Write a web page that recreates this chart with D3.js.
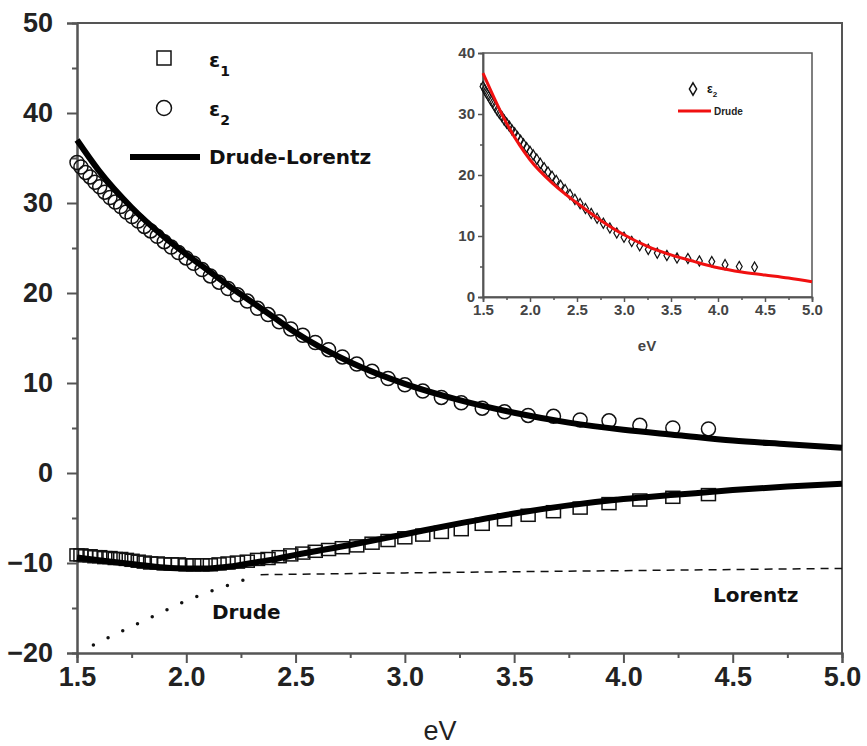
<!DOCTYPE html>
<html>
<head>
<meta charset="utf-8">
<script src="https://cdn.jsdelivr.net/npm/d3@7/dist/d3.min.js"></script>
<style>
  body { margin: 0; background: #fff; }
  text { font-family: "Liberation Sans", Arial, sans-serif; }
  .lbl { font-family: "DejaVu Sans", Verdana, sans-serif; font-weight: bold; }
</style>
</head>
<body>
<script>
var energy = [1.50, 1.518, 1.539, 1.560, 1.582, 1.604, 1.627, 1.651, 1.675, 1.700,
  1.726, 1.752, 1.780, 1.808, 1.837, 1.867, 1.899, 1.931, 1.964, 1.999,
  2.034, 2.072, 2.110, 2.150, 2.191, 2.234, 2.279, 2.326, 2.374, 2.425,
  2.478, 2.533, 2.590, 2.651, 2.714, 2.780, 2.850, 2.923, 3.000, 3.082,
  3.167, 3.258, 3.354, 3.456, 3.564, 3.680, 3.802, 3.934, 4.075, 4.226, 4.389];

var eps1 = [-9.1, -9.1, -9.2, -9.2, -9.3, -9.3, -9.4, -9.4, -9.5, -9.5,
  -9.6, -9.7, -9.8, -9.9, -10.0, -10.0, -10.1, -10.1, -10.1, -10.2,
  -10.2, -10.2, -10.2, -10.1, -10.0, -9.9, -9.8, -9.6, -9.5, -9.3,
  -9.1, -8.9, -8.7, -8.5, -8.3, -8.1, -7.8, -7.5, -7.2, -6.9,
  -6.6, -6.3, -5.7, -5.2, -4.7, -4.3, -3.9, -3.4, -3.0, -2.7, -2.4];

var eps2 = [34.5, 34.0, 33.4, 32.9, 32.3, 31.8, 31.2, 30.6, 30.1, 29.6,
  29.0, 28.5, 28.0, 27.4, 26.9, 26.3, 25.7, 25.1, 24.5, 23.9,
  23.3, 22.6, 21.9, 21.2, 20.5, 19.8, 19.1, 18.3, 17.6, 16.8,
  16.0, 15.3, 14.5, 13.7, 12.9, 12.1, 11.3, 10.5, 9.8, 9.1,
  8.4, 7.8, 7.2, 6.8, 6.4, 6.3, 5.9, 5.8, 5.3, 5.0, 4.9];

var fitE = [1.5, 1.6, 1.75, 1.9, 2.0, 2.1, 2.2, 2.3, 2.4, 2.5, 2.75, 3.0, 3.25, 3.5, 3.75, 4.0, 4.25, 4.5, 4.75, 5.0];
var fitEps1 = [-9.4, -9.7, -10.1, -10.5, -10.6, -10.6, -10.4, -10.0, -9.6, -9.1, -8.0, -6.8, -5.6, -4.5, -3.6, -2.9, -2.4, -1.9, -1.5, -1.2];
var fitEps2 = [37.0, 33.6, 29.5, 26.2, 24.3, 22.5, 20.7, 19.0, 17.3, 15.6, 12.3, 9.9, 8.1, 6.7, 5.6, 4.8, 4.2, 3.6, 3.2, 2.8];

var lorentzE = [2.34, 3.0, 4.0, 5.0];
var lorentzEps1 = [-11.3, -11.1, -10.85, -10.6];

var drudeE = [1.575, 1.72, 1.86, 2.0, 2.14, 2.3];
var drudeEps1 = [-19.1, -17.4, -15.8, -14.2, -12.9, -11.6];

var insetFitE = [1.5, 1.75, 2.0, 2.25, 2.5, 2.75, 3.0, 3.25, 3.5, 3.75, 4.0, 4.25, 4.5, 4.75, 5.0];
var insetFitEps2 = [36.7, 28.5, 22.5, 18.5, 15.4, 12.6, 10.2, 8.3, 6.9, 5.8, 4.8, 4.1, 3.6, 3.1, 2.5];

var xTicks = [1.5, 2.0, 2.5, 3.0, 3.5, 4.0, 4.5, 5.0];
var xMinor = [1.75, 2.25, 2.75, 3.25, 3.75, 4.25, 4.75];
var yTicks = [-20, -10, 0, 10, 20, 30, 40, 50];
var yMinor = [-15, -5, 5, 15, 25, 35, 45];
var insetYTicks = [0, 10, 20, 30, 40];
var insetYMinor = [5, 15, 25, 35];

var width = 867, height = 746;
var plotLeft = 77, plotRight = 842, plotTop = 23, plotBottom = 653;

var svg = d3.select("body").append("svg")
  .attr("width", width)
  .attr("height", height);

var x = d3.scaleLinear().domain([1.5, 5.0]).range([plotLeft, plotRight]);
var y = d3.scaleLinear().domain([-20, 50]).range([plotBottom, plotTop]);

var axisColor = "#555";

function styleAxis(g, size, weight) {
  g.select(".domain").attr("stroke", axisColor).attr("stroke-width", 2);
  g.selectAll(".tick line").attr("stroke", axisColor).attr("stroke-width", 2);
  g.selectAll(".tick text")
    .attr("fill", "#222")
    .style("font-size", size + "px")
    .style("font-weight", weight);
}

// frame
svg.append("path")
  .attr("d", "M" + plotLeft + "," + plotTop + "H" + plotRight + "V" + plotBottom)
  .attr("fill", "none")
  .attr("stroke", axisColor)
  .attr("stroke-width", 2);

svg.append("g")
  .attr("transform", "translate(0," + plotBottom + ")")
  .call(d3.axisBottom(x).tickValues(xMinor).tickSize(5).tickFormat(""))
  .call(function(g) { styleAxis(g, 27, "bold"); });

svg.append("g")
  .attr("transform", "translate(0," + plotBottom + ")")
  .call(d3.axisBottom(x).tickValues(xTicks).tickSize(10).tickPadding(4).tickFormat(d3.format(".1f")))
  .call(function(g) { styleAxis(g, 27, "bold"); });

svg.append("g")
  .attr("transform", "translate(" + plotLeft + ",0)")
  .call(d3.axisLeft(y).tickValues(yMinor).tickSize(5).tickFormat(""))
  .call(function(g) { styleAxis(g, 27, "bold"); });

svg.append("g")
  .attr("transform", "translate(" + plotLeft + ",0)")
  .call(d3.axisLeft(y).tickValues(yTicks).tickSize(10).tickPadding(14))
  .call(function(g) { styleAxis(g, 27, "bold"); });

svg.append("text")
  .attr("x", 440)
  .attr("y", 740)
  .attr("text-anchor", "middle")
  .style("font-size", "27px")
  .attr("fill", "#222")
  .text("eV");

var line = d3.line()
  .x(function(d) { return x(d[0]); })
  .y(function(d) { return y(d[1]); })
  .curve(d3.curveMonotoneX);

svg.append("path")
  .datum(d3.zip(lorentzE, lorentzEps1))
  .attr("d", line)
  .attr("fill", "none")
  .attr("stroke", "#111")
  .attr("stroke-width", 1.5)
  .attr("stroke-dasharray", "8,6");

svg.append("path")
  .datum(d3.zip(drudeE, drudeEps1))
  .attr("d", line)
  .attr("fill", "none")
  .attr("stroke", "#111")
  .attr("stroke-width", 3.5)
  .attr("stroke-linecap", "round")
  .attr("stroke-dasharray", "0,16.3");

svg.append("g").selectAll("circle")
  .data(d3.zip(energy, eps2))
  .enter().append("circle")
  .attr("cx", function(d) { return x(d[0]); })
  .attr("cy", function(d) { return y(d[1]); })
  .attr("r", 7)
  .attr("fill", "none")
  .attr("stroke", "#111")
  .attr("stroke-width", 1.5);

svg.append("g").selectAll("rect")
  .data(d3.zip(energy, eps1))
  .enter().append("rect")
  .attr("x", function(d) { return x(d[0]) - 7; })
  .attr("y", function(d) { return y(d[1]) - 6; })
  .attr("width", 14)
  .attr("height", 12)
  .attr("fill", "none")
  .attr("stroke", "#111")
  .attr("stroke-width", 1.5);

[fitEps1, fitEps2].forEach(function(vals) {
  svg.append("path")
    .datum(d3.zip(fitE, vals))
    .attr("d", line)
    .attr("fill", "none")
    .attr("stroke", "#000")
    .attr("stroke-width", 6);
});

// legend
svg.append("rect")
  .attr("x", 157).attr("y", 51).attr("width", 14).attr("height", 14)
  .attr("fill", "none").attr("stroke", "#111").attr("stroke-width", 1.5);
svg.append("circle")
  .attr("cx", 164).attr("cy", 108).attr("r", 7.5)
  .attr("fill", "none").attr("stroke", "#111").attr("stroke-width", 1.5);
svg.append("line")
  .attr("x1", 130).attr("x2", 200).attr("y1", 157).attr("y2", 157)
  .attr("stroke", "#000").attr("stroke-width", 6);

[["1", 67], ["2", 116]].forEach(function(s) {
  var t = svg.append("text").attr("class", "lbl")
    .attr("x", 209).attr("y", s[1])
    .style("font-size", "20px").attr("fill", "#111");
  t.append("tspan").text("ε");
  t.append("tspan").attr("dy", 9).style("font-size", "14px").text(s[0]);
});

svg.append("text").attr("class", "lbl")
  .attr("x", 209).attr("y", 164)
  .style("font-size", "20px").attr("fill", "#111")
  .text("Drude-Lorentz");

svg.append("text").attr("class", "lbl")
  .attr("x", 212).attr("y", 619)
  .style("font-size", "20px").attr("fill", "#111")
  .text("Drude");

svg.append("text").attr("class", "lbl")
  .attr("x", 713).attr("y", 602)
  .style("font-size", "20px").attr("fill", "#111")
  .text("Lorentz");

// inset
var ix = d3.scaleLinear().domain([1.5, 5.0]).range([483, 812]);
var iy = d3.scaleLinear().domain([0, 40]).range([297, 53]);

var inset = svg.append("g");

inset.append("rect")
  .attr("x", 483).attr("y", 53).attr("width", 329).attr("height", 244)
  .attr("fill", "#fff")
  .attr("stroke", axisColor).attr("stroke-width", 1.5);

function styleInset(g) {
  g.select(".domain").attr("stroke", axisColor).attr("stroke-width", 1.5);
  g.selectAll(".tick line").attr("stroke", axisColor).attr("stroke-width", 1.5);
  g.selectAll(".tick text")
    .attr("fill", "#444")
    .style("font-size", "15px")
    .style("font-weight", "bold");
}

inset.append("g")
  .attr("transform", "translate(0,297)")
  .call(d3.axisBottom(ix).tickValues(xMinor).tickSize(3).tickFormat(""))
  .call(styleInset);
inset.append("g")
  .attr("transform", "translate(0,297)")
  .call(d3.axisBottom(ix).tickValues(xTicks).tickSize(5).tickPadding(2).tickFormat(d3.format(".1f")))
  .call(styleInset);
inset.append("g")
  .attr("transform", "translate(483,0)")
  .call(d3.axisLeft(iy).tickValues(insetYMinor).tickSize(3).tickFormat(""))
  .call(styleInset);
inset.append("g")
  .attr("transform", "translate(483,0)")
  .call(d3.axisLeft(iy).tickValues(insetYTicks).tickSize(5).tickPadding(3))
  .call(styleInset);

inset.append("text")
  .attr("x", 647).attr("y", 351)
  .attr("text-anchor", "middle")
  .style("font-size", "15px").style("font-weight", "bold")
  .attr("fill", "#444")
  .text("eV");

var diamond = d3.symbol().type(d3.symbolDiamond).size(30);

inset.append("g").selectAll("path")
  .data(d3.zip(energy, eps2))
  .enter().append("path")
  .attr("transform", function(d) { return "translate(" + ix(d[0]) + "," + iy(d[1]) + ")"; })
  .attr("d", diamond)
  .attr("fill", "none")
  .attr("stroke", "#111")
  .attr("stroke-width", 1.2);

var insetLine = d3.line()
  .x(function(d) { return ix(d[0]); })
  .y(function(d) { return iy(d[1]); })
  .curve(d3.curveMonotoneX);

inset.append("path")
  .datum(d3.zip(insetFitE, insetFitEps2))
  .attr("d", insetLine)
  .attr("fill", "none")
  .attr("stroke", "#f01010")
  .attr("stroke-width", 3);

inset.append("path")
  .attr("transform", "translate(693,89)")
  .attr("d", d3.symbol().type(d3.symbolDiamond).size(45))
  .attr("fill", "none")
  .attr("stroke", "#111")
  .attr("stroke-width", 1.5);

var it = inset.append("text")
  .attr("x", 707).attr("y", 93)
  .style("font-size", "12px").style("font-weight", "bold")
  .attr("fill", "#111");
it.append("tspan").text("ε");
it.append("tspan").attr("dy", 4).style("font-size", "8px").text("2");

inset.append("line")
  .attr("x1", 678).attr("x2", 711).attr("y1", 111).attr("y2", 111)
  .attr("stroke", "#f01010").attr("stroke-width", 3);

inset.append("text")
  .attr("x", 714).attr("y", 115)
  .style("font-size", "10px").style("font-weight", "bold")
  .attr("fill", "#222")
  .text("Drude");
</script>
</body>
</html>
